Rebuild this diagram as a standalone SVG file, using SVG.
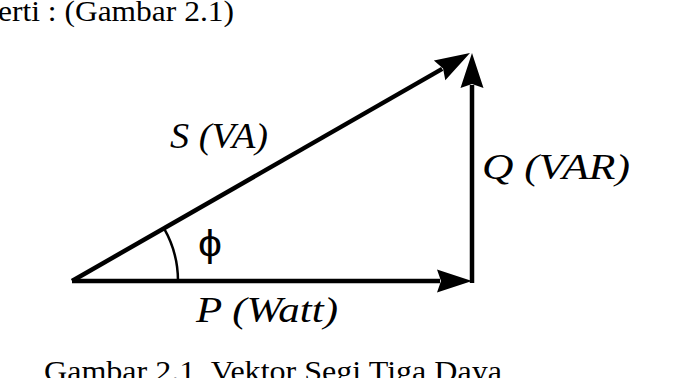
<svg xmlns="http://www.w3.org/2000/svg" width="678" height="378" viewBox="0 0 678 378">
<style>
.txt{font-family:"Liberation Serif","Times New Roman",serif;fill:#000;white-space:pre}
.lbl{font-family:"Liberation Serif","Times New Roman",serif;font-style:italic;font-size:36px;fill:#000}
.vec{stroke:#000;stroke-width:4.5;fill:none}
</style>
<defs>
<marker id="ah" markerUnits="userSpaceOnUse" viewBox="-4 -12 38 24" refX="0" refY="0" markerWidth="38" markerHeight="24" orient="auto" overflow="visible">
<path d="M-3,-11.5 L32,0 L-3,11.5 L1,0 Z" fill="#000"/>
</marker>
</defs>
<rect width="678" height="378" fill="#fff"/>
<text class="txt" x="-2" y="21" font-size="29" textLength="236" lengthAdjust="spacingAndGlyphs">erti : (Gambar 2.1)</text>
<g id="connectors">
<line id="P" class="vec" x1="72" y1="281" x2="440" y2="281" marker-end="url(#ah)"/>
<line id="Q" class="vec" x1="472" y1="283" x2="472" y2="85" marker-end="url(#ah)"/>
<line id="S" class="vec" x1="72" y1="281" x2="442.2" y2="68.9" marker-end="url(#ah)"/>
<path id="angle" d="M178,281 A106,106 0 0 0 164,228.4" stroke="#000" stroke-width="2.5" fill="none"/>
</g>
<g id="label-S"><text class="lbl" x="170" y="148" textLength="98" lengthAdjust="spacingAndGlyphs">S (VA)</text></g>
<g id="label-Q"><text class="lbl" x="482" y="179" textLength="148" lengthAdjust="spacingAndGlyphs">Q (VAR)</text></g>
<g id="label-P"><text class="lbl" x="196" y="322" textLength="142" lengthAdjust="spacingAndGlyphs">P (Watt)</text></g>
<g id="label-phi"><text x="198" y="256" font-family="'Liberation Sans','DejaVu Sans',sans-serif" font-size="36" textLength="24" lengthAdjust="spacingAndGlyphs" fill="#000">ϕ</text></g>
<text class="txt" x="44" y="381" font-size="29" textLength="458" lengthAdjust="spacingAndGlyphs" xml:space="preserve">Gambar 2.1  Vektor Segi Tiga Daya</text>
</svg>
